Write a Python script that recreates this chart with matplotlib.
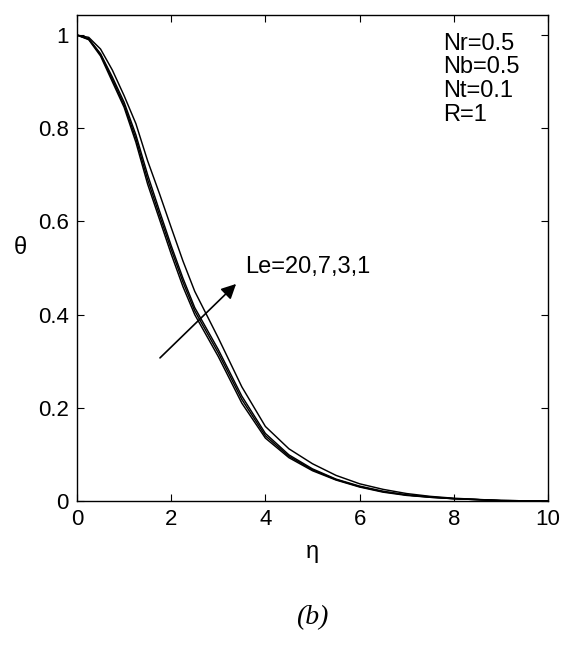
import numpy as np
import matplotlib.pyplot as plt

plt.rcParams['font.family'] = ['Liberation Sans', 'DejaVu Sans']

# values
eta = [0, 0.25, 0.5, 0.75, 1.0, 1.25, 1.5, 1.75, 2.0, 2.25, 2.5, 3.0, 3.5,
       4.0, 4.5, 5.0, 5.5, 6.0, 6.5, 7.0, 7.5, 8.0, 9.0, 10.0]

theta_le20 = [1.0, 0.99, 0.955, 0.90, 0.845, 0.77, 0.68, 0.605, 0.53, 0.46, 0.40,
              0.31, 0.21, 0.135, 0.093, 0.065, 0.045, 0.030, 0.019, 0.012, 0.008,
              0.005, 0.001, 0.0]
theta_le7 = [1.0, 0.991, 0.958, 0.905, 0.85, 0.778, 0.69, 0.614, 0.54, 0.47, 0.408,
             0.318, 0.218, 0.14, 0.096, 0.067, 0.046, 0.031, 0.020, 0.013, 0.008,
             0.005, 0.001, 0.0]
theta_le3 = [1.0, 0.992, 0.96, 0.91, 0.856, 0.786, 0.70, 0.623, 0.548, 0.478, 0.415,
             0.325, 0.225, 0.145, 0.099, 0.069, 0.047, 0.032, 0.021, 0.013, 0.009,
             0.005, 0.001, 0.0]
theta_le1 = [1.0, 0.995, 0.97, 0.925, 0.87, 0.81, 0.73, 0.66, 0.587, 0.515, 0.45,
             0.35, 0.245, 0.16, 0.112, 0.08, 0.055, 0.037, 0.025, 0.016, 0.010,
             0.006, 0.001, 0.0]

params = ['Nr=0.5', 'Nb=0.5', 'Nt=0.1', 'R=1']
xticks = [0, 2, 4, 6, 8, 10]
yticks = [0, 0.2, 0.4, 0.6, 0.8, 1]


fig = plt.figure(figsize=(5.69, 6.5), dpi=100)
ax = fig.add_axes([0.1353, 0.2292, 0.8278, 0.7477])

for th in [theta_le20, theta_le7, theta_le3, theta_le1]:
    ax.plot(eta, th, color='k', lw=1.05)

ax.set_xlim(0, 10)
ax.set_ylim(0, 1.043)
ax.set_xticks(xticks)
ax.set_xticklabels([str(t) for t in xticks])
ax.set_yticks(yticks)
ax.set_yticklabels(['0', '0.2', '0.4', '0.6', '0.8', '1'])
ax.tick_params(direction='in', length=5, width=0.8, top=True, right=True,
               labelsize=16, pad=6)
for s in ax.spines.values():
    s.set_linewidth(1.0)

ax.set_xlabel('η', fontsize=17, labelpad=8)
ax.set_ylabel('θ', fontsize=17, rotation=0, ha='center', va='center')
ax.yaxis.set_label_coords(-0.121, 0.52)

# arrow + label
ax.annotate('', xy=(3.42, 0.47), xytext=(1.72, 0.303),
            arrowprops=dict(arrowstyle='-|>', color='k', lw=1.2,
                            mutation_scale=22))
ax.text(3.57, 0.502, 'Le=20,7,3,1', va='center', ha='left', fontsize=17)

ax.text(7.77, 1.005, '\n'.join(params), va='top', ha='left', fontsize=17,
        linespacing=1.1)

fig.text(0.549, 0.05, '(b)', ha='center', va='center', fontsize=20,
         family='Liberation Serif', style='italic')

fig.savefig('out.png', dpi=100)
